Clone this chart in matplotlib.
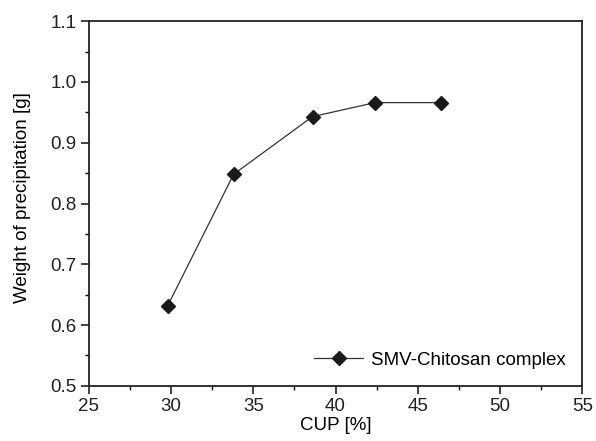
import matplotlib
matplotlib.use("Agg")
import matplotlib.pyplot as plt
from matplotlib.ticker import MultipleLocator

plt.rcParams['font.family'] = ['Liberation Sans', 'DejaVu Sans']

cup = [29.8, 33.8, 38.6, 42.4, 46.4]
weight = [0.632, 0.848, 0.943, 0.966, 0.966]
series_label = "SMV-Chitosan complex"

fs = 13.5
fig = plt.figure(figsize=(5.96, 4.41), dpi=100)
ax = fig.add_axes([0.149, 0.125, 0.828, 0.827])
ax.plot(cup, weight, color='#333333', linewidth=0.9, marker='D', markersize=7,
        markerfacecolor='#1a1a1a', markeredgecolor='#1a1a1a', label=series_label)
ax.set_xlim(25, 55)
ax.set_ylim(0.5, 1.1)
ax.xaxis.set_major_locator(MultipleLocator(5))
ax.xaxis.set_minor_locator(MultipleLocator(2.5))
ax.yaxis.set_major_locator(MultipleLocator(0.1))
ax.yaxis.set_minor_locator(MultipleLocator(0.05))
ax.yaxis.set_major_formatter(plt.FuncFormatter(lambda v, p: f"{v:.1f}"))
ax.tick_params(which='major', direction='out', length=6, width=1.2, labelsize=fs,
               colors='#222222', pad=3)
ax.tick_params(which='minor', direction='out', length=3, width=1.0)
for s in ax.spines.values():
    s.set_linewidth(1.3)
    s.set_color('#222222')
ax.set_xlabel("CUP [%]", fontsize=fs, labelpad=1)
ax.set_ylabel("Weight of precipitation [g]", fontsize=fs)
ax.yaxis.set_label_coords(-0.118, 0.515)
ax.legend(loc='lower right', frameon=False, fontsize=fs, handlelength=2.6,
          borderaxespad=0.5, handletextpad=0.4)
fig.savefig("out.png", dpi=100)
